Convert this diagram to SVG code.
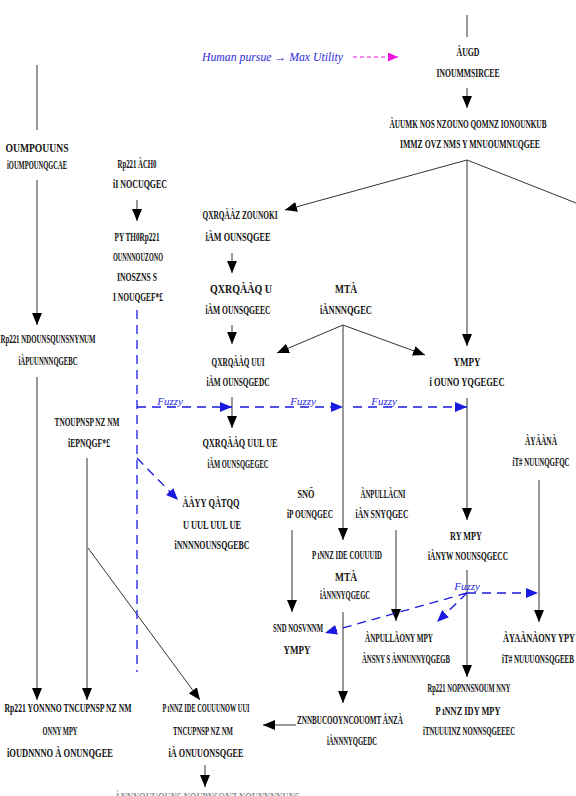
<svg xmlns="http://www.w3.org/2000/svg" width="576" height="796" viewBox="0 0 576 796">
<style>
.t{font-family:"Liberation Serif",serif;font-size:13px;font-weight:bold;fill:#111;text-anchor:middle}
.fz{font-family:"Liberation Serif",serif;font-size:11px;font-style:italic;fill:#2a2ad8;text-anchor:middle}
.ln{stroke:#333;stroke-width:1;fill:none}
.bd{stroke:#1a1ae0;stroke-width:1.3;fill:none;stroke-dasharray:9 6}
</style>
<defs>
<marker id="ab" markerUnits="userSpaceOnUse" markerWidth="13" markerHeight="10" refX="12" refY="5" orient="auto"><path d="M0,0 L12,5 L0,10 z" fill="#000"/></marker>
<marker id="ub" markerUnits="userSpaceOnUse" markerWidth="13" markerHeight="10" refX="12" refY="5" orient="auto"><path d="M0,0 L12,5 L0,10 z" fill="#1a1ae0"/></marker>
<marker id="mb" markerUnits="userSpaceOnUse" markerWidth="11" markerHeight="9" refX="10" refY="4.5" orient="auto"><path d="M0,0 L10,4.5 L0,9 z" fill="#f010e0"/></marker>
</defs>
<rect width="576" height="796" fill="#fff"/>
<g id="connectors">
<line class="ln" x1="467" y1="15" x2="467" y2="37"/>
<line class="ln" x1="467" y1="88" x2="467" y2="108" marker-end="url(#ab)"/>
<line class="ln" x1="467" y1="160" x2="285" y2="210" marker-end="url(#ab)"/>
<line class="ln" x1="467" y1="160" x2="576" y2="203"/>
<line class="ln" x1="467" y1="160" x2="467" y2="346" marker-end="url(#ab)"/>
<line class="ln" x1="37" y1="65" x2="37" y2="130"/>
<line class="ln" x1="37" y1="180" x2="37" y2="325" marker-end="url(#ab)"/>
<line class="ln" x1="37" y1="377" x2="37" y2="700" marker-end="url(#ab)"/>
<line class="ln" x1="137" y1="200" x2="137" y2="221" marker-end="url(#ab)"/>
<line class="ln" x1="232" y1="253" x2="232" y2="273" marker-end="url(#ab)"/>
<line class="ln" x1="232" y1="325" x2="232" y2="344" marker-end="url(#ab)"/>
<line class="ln" x1="232" y1="397" x2="232" y2="428" marker-end="url(#ab)"/>
<line class="ln" x1="343" y1="325" x2="277" y2="353" marker-end="url(#ab)"/>
<line class="ln" x1="343" y1="325" x2="425" y2="355" marker-end="url(#ab)"/>
<line class="ln" x1="343" y1="325" x2="343" y2="540" marker-end="url(#ab)"/>
<line class="ln" x1="467" y1="398" x2="467" y2="520" marker-end="url(#ab)"/>
<line class="ln" x1="539" y1="480" x2="539" y2="622" marker-end="url(#ab)"/>
<line class="ln" x1="292" y1="530" x2="292" y2="612" marker-end="url(#ab)"/>
<line class="ln" x1="396" y1="530" x2="396" y2="621" marker-end="url(#ab)"/>
<line class="ln" x1="343" y1="612" x2="343" y2="703" marker-end="url(#ab)"/>
<line class="ln" x1="467" y1="570" x2="467" y2="677" marker-end="url(#ab)"/>
<line class="ln" x1="296" y1="725" x2="263" y2="725" marker-end="url(#ab)"/>
<line class="ln" x1="87" y1="458" x2="87" y2="700" marker-end="url(#ab)"/>
<line class="ln" x1="88" y1="548" x2="200" y2="700" marker-end="url(#ab)"/>
<line class="ln" x1="205" y1="765" x2="205" y2="787" marker-end="url(#ab)"/>
<line class="bd" x1="137" y1="310" x2="137" y2="672"/>
<line class="bd" x1="137" y1="407" x2="232" y2="407" marker-end="url(#ub)"/>
<line class="bd" x1="240" y1="407" x2="343" y2="407" marker-end="url(#ub)"/>
<line class="bd" x1="353" y1="407" x2="467" y2="407" marker-end="url(#ub)"/>
<line class="bd" x1="137" y1="458" x2="178" y2="500" marker-end="url(#ub)"/>
<line class="bd" x1="467" y1="593" x2="325" y2="633" marker-end="url(#ub)"/>
<line class="bd" x1="467" y1="593" x2="437" y2="622" marker-end="url(#ub)"/>
<line class="bd" x1="467" y1="593" x2="538" y2="593" marker-end="url(#ub)"/>
<line x1="353" y1="57" x2="398" y2="57" stroke="#f010e0" stroke-width="1.2" stroke-dasharray="4 3" marker-end="url(#mb)"/>
<text class="fz" x="170" y="405">Fuzzy</text>
<text class="fz" x="303" y="405">Fuzzy</text>
<text class="fz" x="384" y="405">Fuzzy</text>
<text class="fz" x="467" y="590">Fuzzy</text>
</g>
<g id="title"><text x="202" y="61" style="font-family:'Liberation Serif',serif;font-size:12px;font-style:italic;fill:#2a2ad8" textLength="141" lengthAdjust="spacingAndGlyphs">Human pursue  →  Max Utility</text></g>
<g id="n1"><text class="t" transform="translate(468,56) scale(0.5,1)" textLength="46" lengthAdjust="spacingAndGlyphs">ÀUGD</text><text class="t" transform="translate(468,77) scale(0.5,1)" textLength="126" lengthAdjust="spacingAndGlyphs">INOUMMSIRCEE</text></g>
<g id="n2"><text class="t" transform="translate(468,128) scale(0.5,1)" textLength="314" lengthAdjust="spacingAndGlyphs">ÀUUMK NOS NZOUNO QOMNZ IONOUNKUB</text><text class="t" transform="translate(470,148) scale(0.5,1)" textLength="280" lengthAdjust="spacingAndGlyphs">IMMZ OVZ NMS Y MNUOUMNUQGEE</text></g>
<g id="n3"><text class="t" transform="translate(37,152) scale(0.5,1)" textLength="126" lengthAdjust="spacingAndGlyphs">OUMPOUUNS</text><text class="t" transform="translate(37,169) scale(0.5,1)" textLength="120" lengthAdjust="spacingAndGlyphs">iOUMPOUNQGCAE</text></g>
<g id="n4"><text class="t" transform="translate(137,168) scale(0.5,1)" textLength="78" lengthAdjust="spacingAndGlyphs">Rp221 ÀCH0</text><text class="t" transform="translate(140,188) scale(0.5,1)" textLength="108" lengthAdjust="spacingAndGlyphs">iI NOCUQGEC</text></g>
<g id="n5"><text class="t" transform="translate(137,241) scale(0.5,1)" textLength="90" lengthAdjust="spacingAndGlyphs">PY TH0Rp221</text><text class="t" transform="translate(138,261) scale(0.5,1)" textLength="100" lengthAdjust="spacingAndGlyphs">OUNNNOUZONO</text><text class="t" transform="translate(137,281) scale(0.5,1)" textLength="80" lengthAdjust="spacingAndGlyphs">INOSZNS S</text><text class="t" transform="translate(138,301) scale(0.5,1)" textLength="100" lengthAdjust="spacingAndGlyphs">I NOUQGEF*£</text></g>
<g id="n6"><text class="t" transform="translate(240,219) scale(0.5,1)" textLength="150" lengthAdjust="spacingAndGlyphs">QXRQÀÀZ ZOUNOKI</text><text class="t" transform="translate(238,241) scale(0.5,1)" textLength="130" lengthAdjust="spacingAndGlyphs">iÀM OUNSQGEE</text></g>
<g id="n7"><text class="t" transform="translate(241,293) scale(0.5,1)" textLength="124" lengthAdjust="spacingAndGlyphs">QXRQÀÀQ U</text><text class="t" transform="translate(238,314) scale(0.5,1)" textLength="130" lengthAdjust="spacingAndGlyphs">iÀM OUNSQGEEC</text></g>
<g id="n8"><text class="t" transform="translate(346,293) scale(0.5,1)" textLength="44" lengthAdjust="spacingAndGlyphs">MTÀ</text><text class="t" transform="translate(346,314) scale(0.5,1)" textLength="104" lengthAdjust="spacingAndGlyphs">iÀNNNQGEC</text></g>
<g id="n9"><text class="t" transform="translate(238,366) scale(0.5,1)" textLength="106" lengthAdjust="spacingAndGlyphs">QXRQÀÀQ UUI</text><text class="t" transform="translate(238,386) scale(0.5,1)" textLength="126" lengthAdjust="spacingAndGlyphs">iÀM OUNSQGEDC</text></g>
<g id="n10"><text class="t" transform="translate(467,366) scale(0.5,1)" textLength="54" lengthAdjust="spacingAndGlyphs">YMPY</text><text class="t" transform="translate(467,386) scale(0.5,1)" textLength="150" lengthAdjust="spacingAndGlyphs">i OUNO YQGEGEC</text></g>
<g id="n11"><text class="t" transform="translate(240,447) scale(0.5,1)" textLength="150" lengthAdjust="spacingAndGlyphs">QXRQÀÀQ UUL UE</text><text class="t" transform="translate(238,468) scale(0.5,1)" textLength="122" lengthAdjust="spacingAndGlyphs">iÀM OUNSQGEGEC</text></g>
<g id="n12"><text class="t" transform="translate(48,343) scale(0.5,1)" textLength="190" lengthAdjust="spacingAndGlyphs">Rp221 NDOUNSQUNSNYNUM</text><text class="t" transform="translate(48,365) scale(0.5,1)" textLength="118" lengthAdjust="spacingAndGlyphs">iÀPUUNNNQGEBC</text></g>
<g id="n13"><text class="t" transform="translate(87,426) scale(0.5,1)" textLength="130" lengthAdjust="spacingAndGlyphs">TNOUPNSP NZ NM</text><text class="t" transform="translate(89,447) scale(0.5,1)" textLength="84" lengthAdjust="spacingAndGlyphs">iEPNQGF*£</text></g>
<g id="n14"><text class="t" transform="translate(541,445) scale(0.5,1)" textLength="64" lengthAdjust="spacingAndGlyphs">ÀYÀÀNÀ</text><text class="t" transform="translate(541,466) scale(0.5,1)" textLength="114" lengthAdjust="spacingAndGlyphs">iT# NUUNQGFQC</text></g>
<g id="n15"><text class="t" transform="translate(211,507) scale(0.5,1)" textLength="114" lengthAdjust="spacingAndGlyphs">ÀÀYY QÀTQQ</text><text class="t" transform="translate(212,529) scale(0.5,1)" textLength="116" lengthAdjust="spacingAndGlyphs">U UUL UUL UE</text><text class="t" transform="translate(212,549) scale(0.5,1)" textLength="150" lengthAdjust="spacingAndGlyphs">iNNNNOUNSQGEBC</text></g>
<g id="n16"><text class="t" transform="translate(306,498) scale(0.5,1)" textLength="34" lengthAdjust="spacingAndGlyphs">SNÖ</text><text class="t" transform="translate(310,518) scale(0.5,1)" textLength="92" lengthAdjust="spacingAndGlyphs">iP OUNQGEC</text></g>
<g id="n17"><text class="t" transform="translate(383,498) scale(0.5,1)" textLength="90" lengthAdjust="spacingAndGlyphs">ÀNPULLÀCNI</text><text class="t" transform="translate(382,518) scale(0.5,1)" textLength="106" lengthAdjust="spacingAndGlyphs">iÀN SNYQGEC</text></g>
<g id="n18"><text class="t" transform="translate(466,540) scale(0.5,1)" textLength="64" lengthAdjust="spacingAndGlyphs">RY MPY</text><text class="t" transform="translate(468,560) scale(0.5,1)" textLength="160" lengthAdjust="spacingAndGlyphs">iÀNYW NOUNSQGECC</text></g>
<g id="n19"><text class="t" transform="translate(347,559) scale(0.5,1)" textLength="140" lengthAdjust="spacingAndGlyphs">P ıNNZ IDE COUUUID</text><text class="t" transform="translate(346,581) scale(0.5,1)" textLength="44" lengthAdjust="spacingAndGlyphs">MTÀ</text><text class="t" transform="translate(345,599) scale(0.5,1)" textLength="100" lengthAdjust="spacingAndGlyphs">iÀNNNYQGEGC</text></g>
<g id="n20"><text class="t" transform="translate(298,632) scale(0.5,1)" textLength="100" lengthAdjust="spacingAndGlyphs">SND NOSVNNM</text><text class="t" transform="translate(297,654) scale(0.5,1)" textLength="54" lengthAdjust="spacingAndGlyphs">YMPY</text></g>
<g id="n21"><text class="t" transform="translate(399,642) scale(0.5,1)" textLength="136" lengthAdjust="spacingAndGlyphs">ÀNPULLÀONY MPY</text><text class="t" transform="translate(406,663) scale(0.5,1)" textLength="176" lengthAdjust="spacingAndGlyphs">ÀNSNY S ÀNNUNNYQGEGB</text></g>
<g id="n22"><text class="t" transform="translate(539,642) scale(0.5,1)" textLength="144" lengthAdjust="spacingAndGlyphs">ÀYAÀNÀONY YPY</text><text class="t" transform="translate(538,663) scale(0.5,1)" textLength="144" lengthAdjust="spacingAndGlyphs">iT# NUUUONSQGEEB</text></g>
<g id="n23"><text class="t" transform="translate(469,692) scale(0.5,1)" textLength="166" lengthAdjust="spacingAndGlyphs">Rp221 NOPNNSNOUM NNY</text><text class="t" transform="translate(468,715) scale(0.5,1)" textLength="130" lengthAdjust="spacingAndGlyphs">P ıNNZ IDY MPY</text><text class="t" transform="translate(469,735) scale(0.5,1)" textLength="184" lengthAdjust="spacingAndGlyphs">iTNUUUINZ NONNSQGEEEC</text></g>
<g id="n24"><text class="t" transform="translate(350,724) scale(0.5,1)" textLength="212" lengthAdjust="spacingAndGlyphs">ZNNBUCOOYNCOUOMT ÀNZÀ</text><text class="t" transform="translate(352,745) scale(0.5,1)" textLength="100" lengthAdjust="spacingAndGlyphs">iÀNNNYQGEDC</text></g>
<g id="n25"><text class="t" transform="translate(206,712) scale(0.5,1)" textLength="174" lengthAdjust="spacingAndGlyphs">P ıNNZ IDE COUUUNOW UUI</text><text class="t" transform="translate(203,735) scale(0.5,1)" textLength="120" lengthAdjust="spacingAndGlyphs">TNCUPNSP NZ NM</text><text class="t" transform="translate(206,757) scale(0.5,1)" textLength="150" lengthAdjust="spacingAndGlyphs">iÀ ONUUONSQGEE</text></g>
<g id="n26"><text class="t" transform="translate(68,712) scale(0.5,1)" textLength="254" lengthAdjust="spacingAndGlyphs">Rp221 YONNNO TNCUPNSP NZ NM</text><text class="t" transform="translate(60,735) scale(0.5,1)" textLength="70" lengthAdjust="spacingAndGlyphs">ONNY MPY</text><text class="t" transform="translate(60,757) scale(0.5,1)" textLength="212" lengthAdjust="spacingAndGlyphs">iOUDNNNO À ONUNQGEE</text></g>
<g id="n27"><text class="t" transform="translate(207,801) scale(0.5,1)" textLength="370" lengthAdjust="spacingAndGlyphs" fill-opacity="0.5">ÀNNNOUUOUNS NOUPNSQNZ NOUNNNNUNS</text></g>
</svg>
